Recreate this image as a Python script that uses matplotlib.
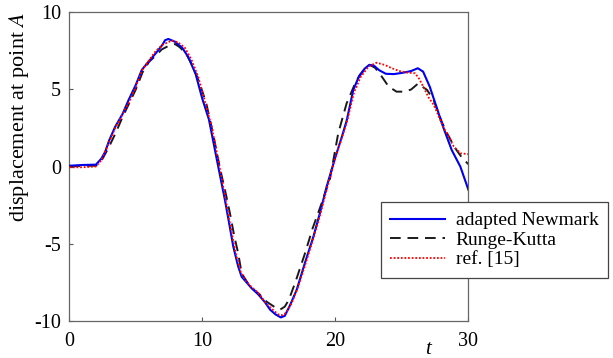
import matplotlib
matplotlib.use("Agg")
import matplotlib.pyplot as plt

# adapted Newmark (blue solid)
t_newmark = [0, 1, 2.0, 2.4, 2.7, 3.0, 3.45, 4.0, 4.45, 5.0, 5.45, 5.95, 6.5, 7.0, 7.2, 7.45,
             7.95, 8.5, 8.95, 9.5, 10.0, 10.5, 11.1, 11.7, 12.0, 12.33, 12.7, 12.96, 13.3, 13.7,
             14.2, 14.7, 15.1, 15.5, 15.9, 16.2, 16.6, 17.1, 17.7, 18.35, 18.85, 19.35, 20.0,
             20.5, 20.86, 21.35, 21.8, 22.2, 22.55, 22.9, 23.3, 23.8, 24.4, 25.1, 25.7, 26.2,
             26.6, 27.1, 27.6, 28.1, 28.75, 29.4, 30.0]
y_newmark = [0.05, 0.1, 0.12, 0.5, 0.95, 1.7, 2.58, 3.4, 4.3, 5.3, 6.27, 6.8, 7.35, 7.9, 8.2, 8.28,
             8.1, 7.7, 7.1, 6.0, 4.4, 3.05, 0.42, -2.17, -3.6, -5.2, -6.5, -7.16, -7.5, -7.9,
             -8.3, -8.8, -9.3, -9.6, -9.8, -9.7, -9.0, -8.0, -6.3, -4.56, -3.0, -1.3, 0.6,
             1.95, 3.0, 4.97, 5.9, 6.35, 6.6, 6.55, 6.25, 6.02, 6.0, 6.09, 6.2, 6.38,
             6.16, 5.18, 3.88, 2.58, 1.07, -0.01, -1.5]

# Runge-Kutta (black dashed)
t_rk = [0, 1, 2.0, 2.5, 3.0, 3.5, 4.0, 4.5, 5.0, 5.5, 6.0, 6.5, 6.95, 7.5, 7.95, 8.3, 8.8, 9.3,
        9.8, 10.3, 10.83, 11.3, 11.8, 12.08, 12.4, 12.7, 12.96, 13.59, 14.3, 14.84, 15.4, 15.84,
        16.2, 16.5, 17.0, 17.72, 18.3, 18.97, 19.6, 20.22, 20.85, 21.6, 22.2, 22.6, 23.0, 23.5,
        24.0, 24.6, 25.2, 25.7, 26.24, 26.6, 26.9, 27.4, 28.0, 28.4, 29.0, 29.5, 30.0]
y_rk = [0.0, 0.05, 0.05, 0.5, 1.3, 2.2, 3.2, 4.1, 5.0, 6.1, 6.8, 7.2, 7.6, 7.85, 7.95, 7.75, 7.3,
        6.5, 5.4, 4.1, 2.05, 0.0, -1.9, -3.04, -4.5, -5.64, -6.94, -7.8, -8.3, -8.78, -9.1, -9.3,
        -9.1, -8.67, -7.5, -5.64, -4.0, -2.39, -0.8, 2.16, 4.1, 5.62, 6.3, 6.6, 6.4, 5.83,
        5.2, 4.86, 4.86, 5.0, 5.4, 5.15, 4.97, 4.3, 2.9, 2.16, 1.2, 0.6, 0.15]

# ref. [15] (red dotted)
t_ref = [0, 1, 2.0, 2.4, 3.0, 3.5, 4.0, 4.5, 5.0, 5.5, 6.0, 6.5, 7.0, 7.5, 7.8, 8.2, 8.7, 9.2,
         9.7, 10.2, 10.7, 11.2, 11.7, 12.1, 12.5, 12.9, 13.3, 13.8, 14.3, 14.8, 15.3, 15.7, 16.0,
         16.3, 16.7, 17.2, 17.8, 18.4, 18.9, 19.4, 20.0, 20.5, 20.9, 21.4, 21.9, 22.5, 23.1,
         23.7, 24.2, 24.8, 25.4, 26.0, 26.3, 26.6, 27.0, 27.4, 28.1, 28.9, 29.4, 30.0]
y_ref = [-0.05, -0.05, 0.0, 0.4, 1.6, 2.6, 3.4, 4.2, 5.2, 6.3, 6.9, 7.5, 7.9, 8.1, 8.17, 8.05, 7.7,
         6.9, 5.8, 4.2, 2.6, 0.4, -1.9, -3.8, -5.6, -6.9, -7.5, -7.9, -8.3, -8.9, -9.3, -9.6,
         -9.65, -9.5, -8.9, -7.8, -6.2, -4.5, -3.0, -1.3, 0.6, 1.9, 3.0, 4.8, 5.8, 6.5, 6.74,
         6.6, 6.4, 6.2, 6.1, 6.05, 5.7, 5.2, 4.5, 4.0, 2.6, 1.3, 0.86, 0.8]

x_ticks = [0, 10, 20, 30]
y_ticks = [-10, -5, 0, 5, 10]
labels = ["adapted Newmark", "Runge-Kutta", "ref. [15]"]

plt.rcParams['font.family'] = ['Liberation Serif', 'DejaVu Serif']
plt.rcParams['mathtext.fontset'] = 'stix'

fig = plt.figure(figsize=(6.13, 3.58), dpi=100)
ax = fig.add_axes([0.113, 0.1047, 0.651, 0.8604])

l1, = ax.plot(t_newmark, y_newmark, color='#0000ee', lw=1.5, ls='-', zorder=3)
l2, = ax.plot(t_rk, y_rk, color='#1a1a1a', lw=1.4, ls=(0, (5.5, 3.5)), zorder=2)
l3, = ax.plot(t_ref, y_ref, color='#ff0000', lw=1.3, ls=(0, (1, 1)), zorder=4)

ax.set_xlim(0, 30)
ax.set_ylim(-10, 10)
ax.set_xticks(x_ticks)
ax.set_yticks(y_ticks)
ax.set_xticklabels([str(v) for v in x_ticks])
ax.set_yticklabels([str(v) for v in y_ticks])
ax.tick_params(direction='in', length=3, width=0.8, color='#555555', labelsize=14.5,
               top=False, right=False)
ax.tick_params(axis='x', pad=8)
ax.tick_params(axis='y', pad=6)
for s in ax.spines.values():
    s.set_color('#666666')
    s.set_linewidth(0.9)

ax.set_ylabel('displacement at point $A$', fontsize=16)
ax.yaxis.set_label_coords(-0.097, 0.66)
ax.text(0.899, -0.0925, 't', transform=ax.transAxes, fontsize=15, fontstyle='italic',
        ha='center', va='center')

leg = fig.legend([l1, l2, l3], labels, loc='upper left', bbox_to_anchor=(0.621, 0.4358),
                 bbox_transform=fig.transFigure, fontsize=14, frameon=True, fancybox=False,
                 edgecolor='#444444', framealpha=1, borderaxespad=0, borderpad=0.5,
                 handlelength=2.8, handletextpad=0.55, labelspacing=0.1)
leg.get_frame().set_linewidth(0.9)

fig.savefig('out.png', dpi=100)
